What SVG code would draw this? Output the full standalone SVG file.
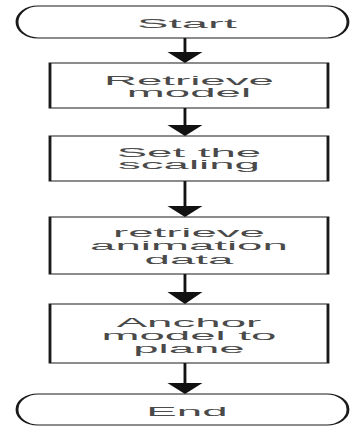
<svg xmlns="http://www.w3.org/2000/svg" width="350" height="426" viewBox="0 0 350 426">
  <style>
    .shape { fill: #ffffff; stroke: #1a1a1a; stroke-width: 1; }
    .label { font-family: "Liberation Sans", Arial, sans-serif; font-size: 13.5px; fill: #4a4a4a; text-anchor: middle; }
    .stem { stroke: #111111; stroke-width: 1; fill: none; }
    .head { fill: #111111; stroke: none; }
  </style>
  <rect width="350" height="426" fill="#ffffff"/>
  <!-- the whole chart is drawn in a horizontally widened frame -->
  <g transform="scale(2.85 1)">
    <g id="connectors">
      <line class="stem" x1="64.9" y1="38" x2="64.9" y2="53"/>
      <polygon class="head" points="58.76,52 71.04,52 64.9,63"/>
      <line class="stem" x1="64.9" y1="108" x2="64.9" y2="126"/>
      <polygon class="head" points="58.76,125 71.04,125 64.9,136"/>
      <line class="stem" x1="64.9" y1="181" x2="64.9" y2="207"/>
      <polygon class="head" points="58.76,206 71.04,206 64.9,217"/>
      <line class="stem" x1="64.9" y1="274" x2="64.9" y2="293"/>
      <polygon class="head" points="58.76,292 71.04,292 64.9,304"/>
      <line class="stem" x1="64.9" y1="363" x2="64.9" y2="384"/>
      <polygon class="head" points="58.76,383 71.04,383 64.9,394"/>
    </g>
    <g id="start">
      <rect class="shape" x="5.96" y="6" width="116.14" height="32" rx="7.37" ry="16"/>
      <text class="label" x="65.6" y="28" textLength="35" lengthAdjust="spacingAndGlyphs">Start</text>
    </g>
    <g id="retrieve-model">
      <rect class="shape" x="17.54" y="63" width="97.54" height="45"/>
      <text class="label" x="66.3" y="85" textLength="59.6" lengthAdjust="spacingAndGlyphs">Retrieve</text>
      <text class="label" x="66.3" y="97.5" textLength="43.6" lengthAdjust="spacingAndGlyphs">model</text>
    </g>
    <g id="set-scaling">
      <rect class="shape" x="17.54" y="136" width="97.54" height="45"/>
      <text class="label" x="66.3" y="157" textLength="50.7" lengthAdjust="spacingAndGlyphs">Set the</text>
      <text class="label" x="66.3" y="169.5" textLength="49.8" lengthAdjust="spacingAndGlyphs">scaling</text>
    </g>
    <g id="retrieve-animation">
      <rect class="shape" x="17.54" y="217" width="97.54" height="57"/>
      <text class="label" x="66.3" y="237" textLength="53.3" lengthAdjust="spacingAndGlyphs">retrieve</text>
      <text class="label" x="66.3" y="250.5" textLength="69.4" lengthAdjust="spacingAndGlyphs">animation</text>
      <text class="label" x="66.3" y="264" textLength="31.1" lengthAdjust="spacingAndGlyphs">data</text>
    </g>
    <g id="anchor-model">
      <rect class="shape" x="17.54" y="304" width="97.54" height="59"/>
      <text class="label" x="66.3" y="327" textLength="50.7" lengthAdjust="spacingAndGlyphs">Anchor</text>
      <text class="label" x="66.3" y="340" textLength="61.4" lengthAdjust="spacingAndGlyphs">model to</text>
      <text class="label" x="66.3" y="353" textLength="39.1" lengthAdjust="spacingAndGlyphs">plane</text>
    </g>
    <g id="end">
      <rect class="shape" x="5.96" y="394" width="116.14" height="31" rx="7.37" ry="15.5"/>
      <text class="label" x="65.6" y="416" textLength="28.5" lengthAdjust="spacingAndGlyphs">End</text>
    </g>
  </g>
</svg>
